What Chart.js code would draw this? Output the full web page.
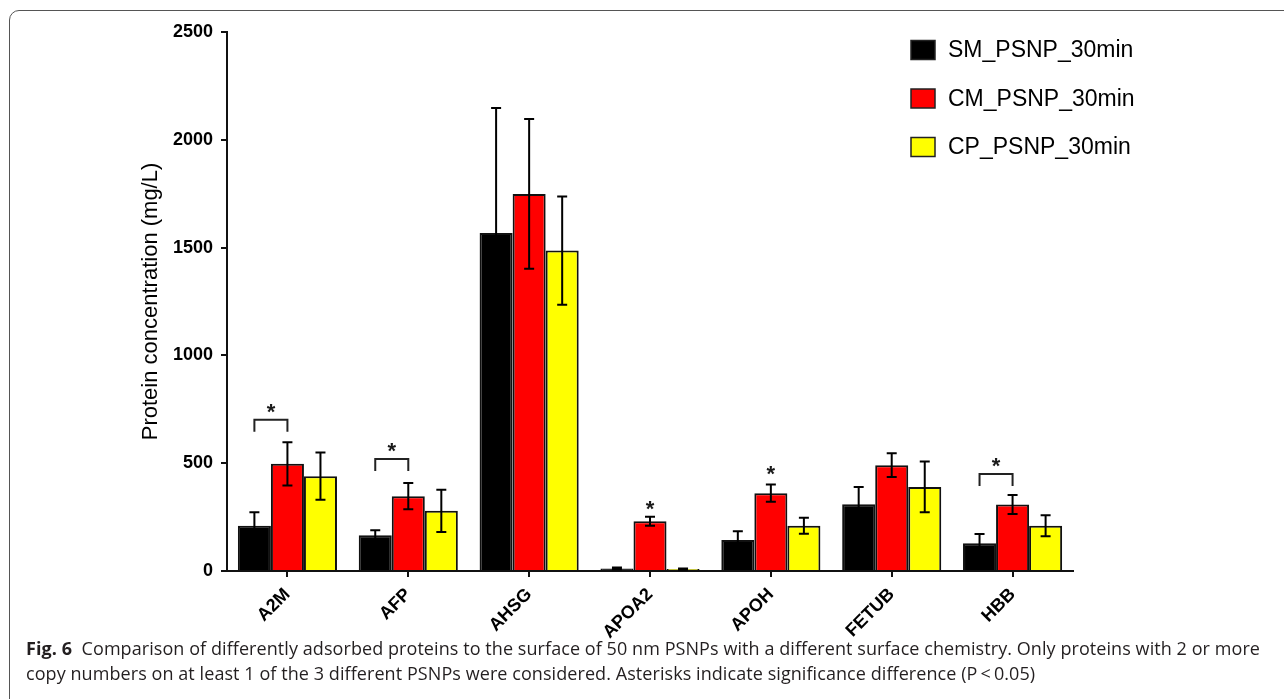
<!DOCTYPE html>
<html>
<head>
<meta charset="utf-8">
<script src="https://cdn.jsdelivr.net/npm/chart.js@4"></script>
<style>
  html, body { margin: 0; padding: 0; background: #fff; }
  body { width: 1284px; height: 699px; position: relative; overflow: hidden; }
  .frame {
    position: absolute; left: 9px; top: 10px; width: 1300px; height: 720px;
    border: 1px solid #555; border-radius: 10px; box-sizing: border-box;
  }
  .plot { position: absolute; left: 0; top: 0; width: 1284px; height: 640px; }
  .caption {
    position: absolute; left: 26px; top: 636px;
    font-family: "Open Sans", sans-serif;
    font-size: 18px; line-height: 25px; color: #231f20; white-space: nowrap;
  }
  .caption span { display: inline-block; }
</style>
</head>
<body>
<div class="frame"></div>
<div class="plot"><canvas id="proteinChart"></canvas></div>
<div class="caption">
  <span id="line1"><b>Fig. 6</b>&nbsp; Comparison of differently adsorbed proteins to the surface of 50 nm PSNPs with a different surface chemistry. Only proteins with 2 or more</span><br>
  <span id="line2">copy numbers on at least 1 of the 3 different PSNPs were considered. Asterisks indicate significance difference (P&thinsp;&lt;&thinsp;0.05)</span>
</div>
<script>
const categories = ['A2M', 'AFP', 'AHSG', 'APOA2', 'APOH', 'FETUB', 'HBB'];
const seriesNames = ['SM_PSNP_30min', 'CM_PSNP_30min', 'CP_PSNP_30min'];

const smValues = [210, 166, 1568, 12, 144, 310, 129];
const smErrors = [62, 23, 580, 4, 40, 80, 43];
const cmValues = [497, 347, 1749, 231, 361, 491, 308];
const cmErrors = [100, 61, 347, 21, 40, 55, 44];
const cpValues = [440, 279, 1486, 9, 210, 390, 210];
const cpErrors = [110, 98, 251, 3, 37, 118, 49];

// significance marks: bracket = SM vs CM, star = star over CM only
const sigType = ['bracket', 'bracket', 'none', 'star', 'star', 'none', 'bracket'];
const sigLevel = [752, 571, 0, 303, 466, 0, 501];

const yTicks = [0, 500, 1000, 1500, 2000, 2500];

const fontFamily = 'Arial, "Liberation Sans", sans-serif';
const errorSets = [smErrors, cmErrors, cpErrors];

// stretch caption line 1 to the width it has in the figure
const line1 = document.getElementById('line1');
const extra = 1234 - line1.getBoundingClientRect().width;
const chars = line1.textContent.length;
document.querySelector('.caption').style.letterSpacing = (extra / chars) + 'px';

const errorBarsPlugin = {
  id: 'errorBars',
  afterDatasetsDraw(chart) {
    const ctx = chart.ctx;
    const y = chart.scales.y;
    ctx.save();
    ctx.strokeStyle = '#000';
    ctx.lineWidth = 2;
    chart.data.datasets.forEach((ds, i) => {
      const meta = chart.getDatasetMeta(i);
      meta.data.forEach((bar, j) => {
        const v = ds.data[j];
        const e = errorSets[i][j];
        const top = y.getPixelForValue(v + e);
        const bot = y.getPixelForValue(Math.max(v - e, 0));
        ctx.beginPath();
        ctx.moveTo(bar.x, top); ctx.lineTo(bar.x, bot);
        ctx.moveTo(bar.x - 5, top); ctx.lineTo(bar.x + 5, top);
        ctx.moveTo(bar.x - 5, bot); ctx.lineTo(bar.x + 5, bot);
        ctx.stroke();
      });
    });
    ctx.restore();
  }
};

const significancePlugin = {
  id: 'significance',
  afterDatasetsDraw(chart) {
    const ctx = chart.ctx;
    const y = chart.scales.y;
    const sm = chart.getDatasetMeta(0).data;
    const cm = chart.getDatasetMeta(1).data;
    ctx.save();
    ctx.strokeStyle = '#222';
    ctx.fillStyle = '#1a1a1a';
    ctx.lineWidth = 2;
    ctx.font = 'bold 22px ' + fontFamily;
    ctx.textAlign = 'center';
    ctx.textBaseline = 'middle';
    sigType.forEach((type, j) => {
      if (type === 'none') return;
      const starY = y.getPixelForValue(sigLevel[j]);
      let starX = cm[j].x;
      if (type === 'bracket') {
        const x0 = sm[j].x, x1 = cm[j].x;
        const top = starY + 11;
        ctx.beginPath();
        ctx.moveTo(x0, top + 12); ctx.lineTo(x0, top);
        ctx.lineTo(x1, top); ctx.lineTo(x1, top + 12);
        ctx.stroke();
        starX = (x0 + x1) / 2;
      }
      ctx.fillText('*', starX, starY + 4);
    });
    ctx.restore();
  }
};

const sideLegendPlugin = {
  id: 'sideLegend',
  afterDraw(chart) {
    const ctx = chart.ctx;
    ctx.save();
    ctx.font = '23px ' + fontFamily;
    ctx.textBaseline = 'middle';
    ctx.textAlign = 'left';
    chart.data.datasets.forEach((ds, i) => {
      const cy = 50 + i * 48.5;
      ctx.fillStyle = ds.backgroundColor;
      ctx.fillRect(911, cy - 9.5, 24, 19);
      ctx.strokeStyle = '#222';
      ctx.lineWidth = 1.5;
      ctx.strokeRect(911, cy - 9.5, 24, 19);
      ctx.fillStyle = '#000';
      ctx.fillText(ds.label, 948, cy + 1);
    });
    ctx.restore();
  }
};

const ctx = document.getElementById('proteinChart');
new Chart(ctx, {
  type: 'bar',
  data: {
    labels: categories,
    datasets: [
      { label: seriesNames[0], data: smValues, backgroundColor: '#000000', borderColor: '#111', borderWidth: 2 },
      { label: seriesNames[1], data: cmValues, backgroundColor: '#ff0000', borderColor: '#111', borderWidth: 2 },
      { label: seriesNames[2], data: cpValues, backgroundColor: '#ffff00', borderColor: '#111', borderWidth: 2 }
    ]
  },
  options: {
    responsive: true,
    maintainAspectRatio: false,
    animation: false,
    layout: { padding: { left: 134, right: 211, top: 32, bottom: 0 } },
    datasets: { bar: { categoryPercentage: 0.82, barPercentage: 1.0 } },
    plugins: {
      legend: { display: false },
      tooltip: { enabled: false }
    },
    scales: {
      x: {
        grid: { drawOnChartArea: false, offset: false, tickLength: 6, color: '#111', lineWidth: 2 },
        border: { color: '#111', width: 2 },
        ticks: {
          color: '#000', maxRotation: 45, minRotation: 45, padding: 7,
          font: { family: fontFamily, size: 18, weight: 'bold' }
        },
        afterFit(scale) { scale.height = 69; }
      },
      y: {
        min: 0,
        max: 2500,
        afterBuildTicks(scale) { scale.ticks = yTicks.map(v => ({ value: v })); },
        grid: { drawOnChartArea: false, tickLength: 6, color: '#111', lineWidth: 2 },
        border: { color: '#111', width: 2 },
        ticks: {
          color: '#000', padding: 8,
          font: { family: fontFamily, size: 18, weight: 'bold' },
          callback: v => String(v)
        },
        title: {
          display: true,
          text: 'Protein concentration (mg/L)',
          color: '#000',
          font: { family: fontFamily, size: 22, weight: 'normal' }
        },
        afterFit(scale) { scale.width = 93; }
      }
    }
  },
  plugins: [errorBarsPlugin, significancePlugin, sideLegendPlugin]
});
</script>
</body>
</html>
